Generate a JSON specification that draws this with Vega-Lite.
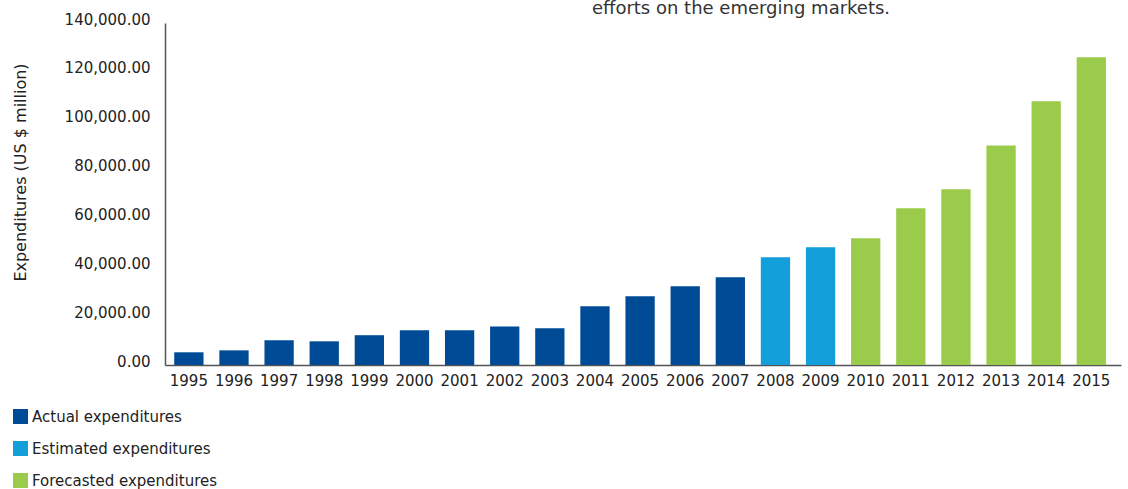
{
  "$schema": "https://vega.github.io/schema/vega-lite/v6.json",
  "autosize": {"type": "none"},
  "width": 956,
  "height": 342,
  "padding": {"left": 165, "top": 23, "right": 7, "bottom": 124},
  "title": {
    "text": "efforts on the emerging markets.",
    "anchor": "middle",
    "frame": "group",
    "dx": 98,
    "dy": 20,
    "offset": 0,
    "baseline": "alphabetic",
    "fontSize": 18,
    "font": "DejaVu Sans",
    "fontWeight": "normal",
    "color": "#333333"
  },
  "config": {
    "view": {"stroke": null},
    "font": "DejaVu Sans",
    "axis": {"grid": false, "ticks": false, "tickSize": 0, "labelFont": "DejaVu Sans", "labelColor": "#222222", "labelFontSize": 15, "domainColor": "#555555", "domainWidth": 1.5}
  },
  "data": {
    "values": [
      {"year": "1995", "value": 5200, "type": "Actual expenditures"},
      {"year": "1996", "value": 6000, "type": "Actual expenditures"},
      {"year": "1997", "value": 10100, "type": "Actual expenditures"},
      {"year": "1998", "value": 9700, "type": "Actual expenditures"},
      {"year": "1999", "value": 12200, "type": "Actual expenditures"},
      {"year": "2000", "value": 14200, "type": "Actual expenditures"},
      {"year": "2001", "value": 14200, "type": "Actual expenditures"},
      {"year": "2002", "value": 15800, "type": "Actual expenditures"},
      {"year": "2003", "value": 15000, "type": "Actual expenditures"},
      {"year": "2004", "value": 24000, "type": "Actual expenditures"},
      {"year": "2005", "value": 28100, "type": "Actual expenditures"},
      {"year": "2006", "value": 32200, "type": "Actual expenditures"},
      {"year": "2007", "value": 35900, "type": "Actual expenditures"},
      {"year": "2008", "value": 44100, "type": "Estimated expenditures"},
      {"year": "2009", "value": 48200, "type": "Estimated expenditures"},
      {"year": "2010", "value": 51900, "type": "Forecasted expenditures"},
      {"year": "2011", "value": 64200, "type": "Forecasted expenditures"},
      {"year": "2012", "value": 71900, "type": "Forecasted expenditures"},
      {"year": "2013", "value": 89900, "type": "Forecasted expenditures"},
      {"year": "2014", "value": 108000, "type": "Forecasted expenditures"},
      {"year": "2015", "value": 126000, "type": "Forecasted expenditures"}
    ]
  },
  "mark": {"type": "bar"},
  "encoding": {
    "x": {
      "field": "year",
      "type": "ordinal",
      "scale": {"paddingInner": 0.351, "paddingOuter": 0.269, "align": 0.38},
      "axis": {"title": null, "labelAngle": 0, "labelPadding": 8}
    },
    "y": {
      "field": "value",
      "type": "quantitative",
      "scale": {"domain": [0, 140000], "nice": false},
      "axis": {
        "values": [0, 20000, 40000, 60000, 80000, 100000, 120000, 140000],
        "format": ",.2f",
        "labelPadding": 15,
        "labelOffset": -4,
        "title": "Expenditures (US $ million)",
        "titleFont": "DejaVu Sans",
        "titleFontSize": 16,
        "titleFontWeight": "normal",
        "titleColor": "#222222",
        "titleAlign": "center",
        "titleBaseline": "alphabetic",
        "titleAngle": -90,
        "titleX": -140,
        "titleY": 149
      }
    },
    "color": {
      "field": "type",
      "type": "nominal",
      "scale": {
        "domain": ["Actual expenditures", "Estimated expenditures", "Forecasted expenditures"],
        "range": ["#004B95", "#129FDA", "#9BCB4B"]
      },
      "legend": {
        "title": null,
        "orient": "none",
        "legendX": -152,
        "legendY": 386,
        "direction": "vertical",
        "symbolType": "square",
        "symbolSize": 225,
        "symbolStrokeWidth": 0,
        "symbolOpacity": 1,
        "labelFont": "DejaVu Sans",
        "labelFontSize": 15,
        "labelColor": "#222222",
        "labelOffset": 4,
        "labelLimit": 0,
        "rowPadding": 16,
        "padding": 0,
        "offset": 0
      }
    }
  }
}
